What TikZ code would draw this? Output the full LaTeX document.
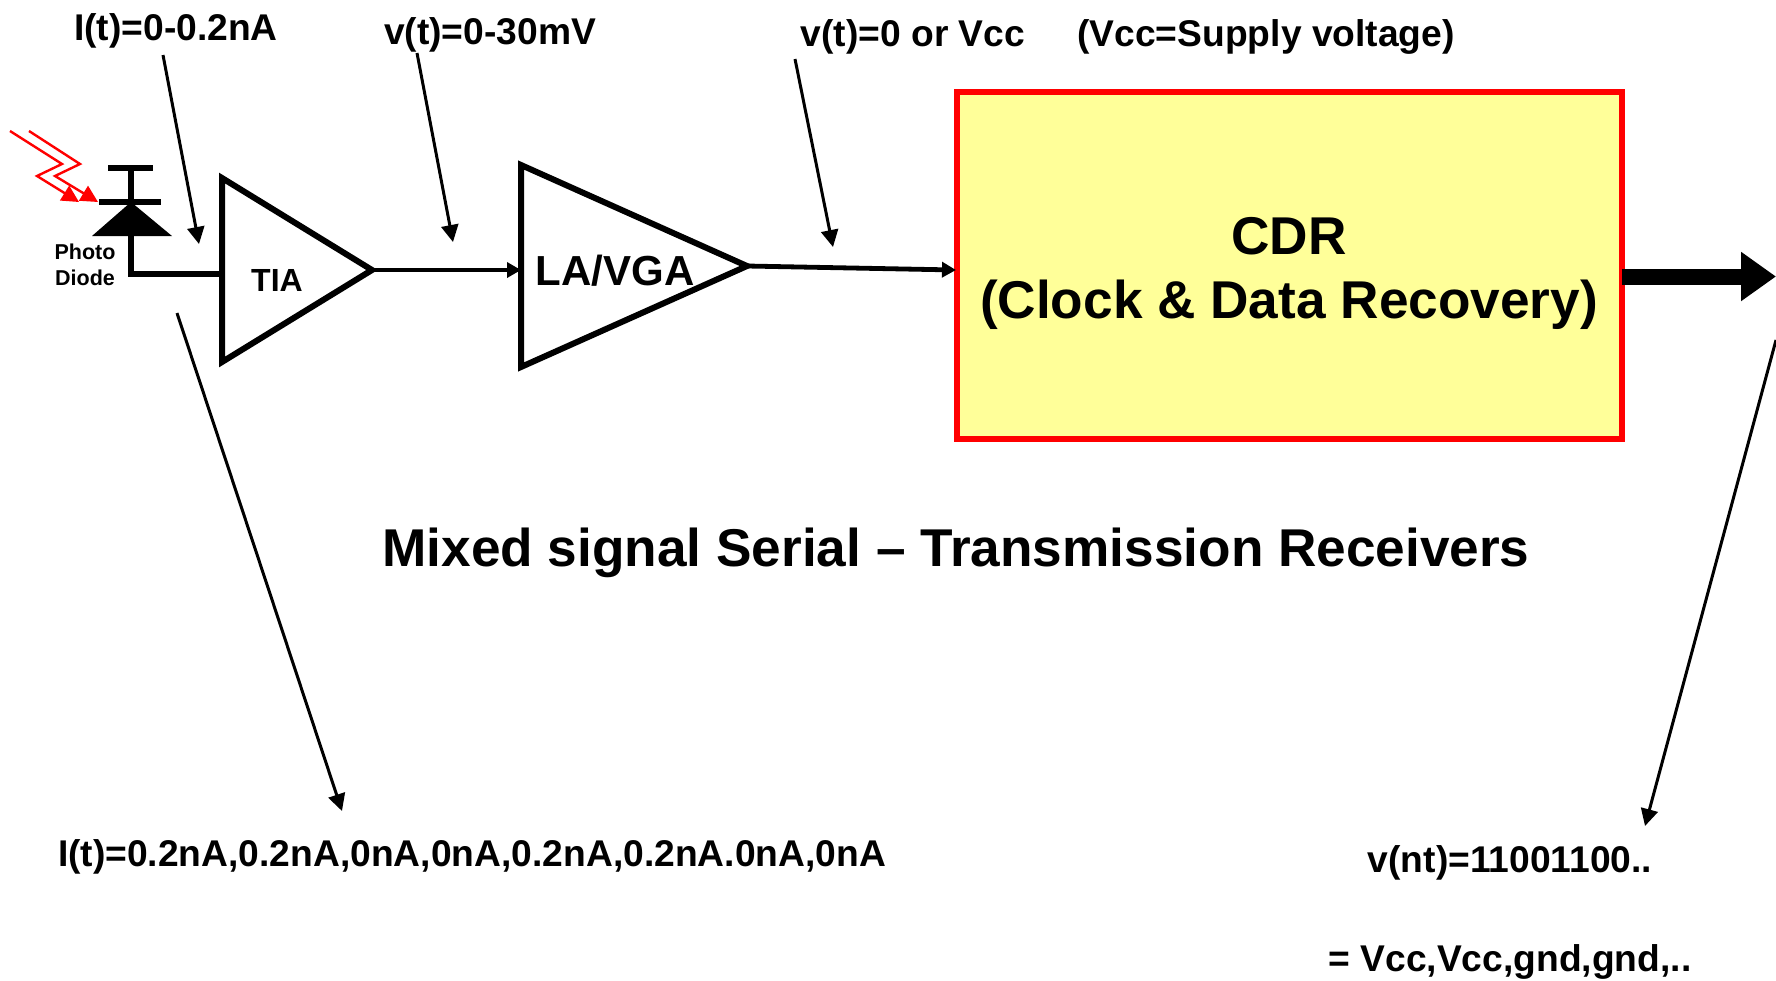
\documentclass[tikz,border=0pt]{standalone}
\usepackage{fontspec}
\setmainfont{Liberation Sans}[BoldFont={Liberation Sans Bold}]
\usetikzlibrary{arrows.meta}
\newcommand{\fs}[1]{\fontsize{#1}{#1}\selectfont\bfseries}
\definecolor{cdrfill}{RGB}{255,255,153}
\tikzset{
  lbl/.style={inner sep=0pt,text=black,anchor=center},
  small/.style={lbl,font=\fs{37.2}},
  thinarrow/.style={draw=black,line width=3pt,-{Triangle[length=17pt,width=17pt]}},
  sigwire/.style={draw=black,line width=4.8pt,-{Triangle[length=14pt,width=15pt]}},
  amp/.style={draw=black,line width=6pt,miter limit=10,line join=miter},
  ray/.style={draw=red,line width=2.4pt,-{Triangle[length=17pt,width=17pt]}},
}
\begin{document}
\begin{tikzpicture}[x=1pt,y=-1pt]
\useasboundingbox (0,0) rectangle (1776,980);
% text labels
\node[small] (i1) at (176,31) {I(t)=0-0.2nA};
\node[small] (v1) at (490,35) {v(t)=0-30mV};
\node[small] (v2) at (913,37) {v(t)=0 or Vcc};
\node[small] (vcc) at (1266,37) {(Vcc=Supply voltage)};
\node[small] (iseq) at (472,857) {I(t)=0.2nA,0.2nA,0nA,0nA,0.2nA,0.2nA.0nA,0nA};
\node[small] (vseq) at (1510,863) {v(nt)=11001100..};
\node[small] (vgnd) at (1510,962) {= Vcc,Vcc,gnd,gnd,..};
\node[lbl,font=\fs{53.2}] (title) at (956,553) {Mixed signal Serial -- Transmission Receivers};
% CDR
\node[draw=red,line width=6pt,fill=cdrfill,inner sep=0pt,minimum width=665pt,minimum height=347pt,outer sep=0pt] (cdrbox) at (1289,265.5) {};
\node[lbl,font=\fs{53.2}] (cdr1) at (1289,236) {CDR};
\node[lbl,font=\fs{53.2}] (cdr2) at (1289,305) {(Clock \& Data Recovery)};
% amplifiers
\coordinate (tiaA) at (222,178);
\coordinate (tiaB) at (222,362);
\coordinate (tiaT) at (372,270);
\coordinate (laA) at (521,165);
\coordinate (laB) at (521,367);
\coordinate (laT) at (747,266);
\coordinate (laIn) at (521,270);
\coordinate (tiaIn) at (222,274);
\coordinate (cdrIn) at (956,270);
\draw[amp] (tiaA) -- (tiaB) -- (tiaT) -- cycle;
\draw[amp] (laA) -- (laB) -- (laT) -- cycle;
\node[lbl,font=\fs{32}] (tia) at (277,280) {TIA};
\node[lbl,font=\fs{42}] (la) at (615,271) {LA/VGA};
% wires
\draw[sigwire] (tiaT) -- (laIn);
\draw[sigwire] (laT) -- (cdrIn);
% output arrow
\coordinate (outS) at (1622,276.5);
\coordinate (outE) at (1776,276.5);
\draw[line width=16pt,-{Triangle[length=35pt,width=47pt,sep=0pt]}] (outS) -- (outE);
% diode
\coordinate (dTop) at (131,168);
\coordinate (dBar) at (131,202);
\coordinate (dApex) at (131,202);
\coordinate (dL) at (92,236);
\coordinate (dR) at (172,236);
\coordinate (dBot) at (131,274);
\draw[line width=6pt] (108,168) -- (153,168);
\draw[line width=6pt] (99,202) -- (161,202);
\draw[line width=6pt] (dTop) -- (dBar);
\fill[black] (dApex) -- (dR) -- (dL) -- cycle;
\draw[line width=6pt,line join=miter] (dBot |- dL) -- (dBot) -- (tiaIn);
\node[lbl,font=\fs{21.5}] (ph) at (85,252) {Photo};
\node[lbl,font=\fs{21.5}] (di) at (85,278) {Diode};
% light rays
\draw[ray] (10,131) -- (62,164) -- (37,176) -- (79,202);
\draw[ray] (29,131) -- (80,164) -- (55,176) -- (98,202);
% pointer arrows
\coordinate (p1e) at (199,244);
\coordinate (p2e) at (453,242);
\coordinate (p3e) at (833,247);
\coordinate (p4e) at (342,811);
\coordinate (p5e) at (1645,826);
\coordinate (p1s) at (163,55);
\coordinate (p2s) at (417,53);
\coordinate (p3s) at (795,59);
\coordinate (p4s) at (177,313);
\coordinate (p5s) at (1776,340);
\draw[thinarrow] (p1s) -- (p1e);
\draw[thinarrow] (p2s) -- (p2e);
\draw[thinarrow] (p3s) -- (p3e);
\draw[thinarrow] (p4s) -- (p4e);
\draw[thinarrow] (p5s) -- (p5e);
\end{tikzpicture}
\end{document}
